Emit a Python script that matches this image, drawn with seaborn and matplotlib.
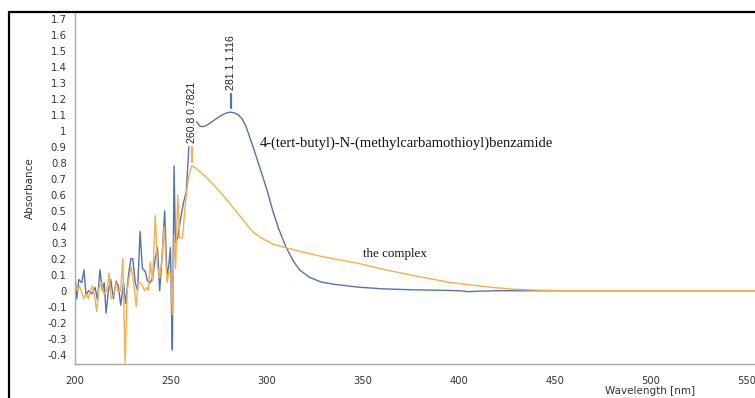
import numpy as np
import pandas as pd
import matplotlib
matplotlib.use("Agg")
import matplotlib.pyplot as plt
from matplotlib.ticker import MultipleLocator, FuncFormatter
from matplotlib.lines import Line2D
import seaborn as sns

# --- datos leidos del espectro (longitud de onda en nm, absorbancia) ---
# ligando: 4-(tert-butyl)-N-(methylcarbamothioyl)benzamide  (NaN = hueco en la traza)
ligand_wl = [200.0, 200.9, 202.0, 203.5, 204.7, 205.7, 207.0, 208.7, 210.5, 211.7,
             213.0, 214.3, 215.2, 216.2, 217.4, 218.6, 220.0, 221.4, 222.6, 223.8,
             225.3, 226.4, 227.9, 229.1, 230.1, 231.4, 232.6, 233.9, 235.1, 236.6,
             237.8, 239.2, 240.4, 241.8, 243.0, 244.1, 245.3, 246.7, 247.9, 248.8,
             249.7, 250.3, 250.7, 251.6, 252.3, 253.5, 255.0, 256.5, 258.0, 259.3,
             261.0,
             263.3, 265.0, 266.5, 268.0, 270.0, 273.0, 276.0, 279.0, 281.1, 283.0,
             285.0, 287.0, 289.0, 291.0, 293.0, 296.0, 300.0, 303.0, 306.0, 310.0,
             314.0, 317.0, 322.0, 328.0, 335.0, 348.0, 360.0, 375.0, 390.0, 400.0,
             405.0, 410.0, 420.0, 555.0]
ligand_abs = [0.10, -0.05, 0.07, 0.05, 0.13, -0.03, 0.00, -0.02, 0.02, -0.06,
              0.13, 0.00, 0.05, -0.14, 0.00, 0.07, -0.05, 0.06, 0.03, -0.09,
              0.05, -0.08, 0.10, 0.20, 0.20, 0.05, 0.00, 0.37, 0.14, 0.12,
              0.06, 0.05, 0.08, 0.20, 0.27, 0.00, 0.20, 0.50, 0.10, 0.15,
              0.27, -0.15, -0.37, 0.78, 0.30, 0.33, 0.45, 0.55, 0.62, 0.90,
              np.nan,
              1.056, 1.030, 1.025, 1.030, 1.045, 1.070, 1.095, 1.112, 1.116, 1.112,
              1.100, 1.075, 1.030, 0.960, 0.890, 0.780, 0.630, 0.500, 0.390, 0.270,
              0.180, 0.130, 0.085, 0.055, 0.040, 0.022, 0.012, 0.006, 0.003, 0.000,
              -0.006, -0.003, 0.000, 0.000]

# complejo
complex_wl = [200.0, 201.2, 202.3, 203.5, 204.7, 205.7, 207.0, 208.0, 209.1, 210.1,
              211.3, 212.5, 213.9, 215.1, 216.5, 217.8, 218.8, 220.0, 221.4, 222.6,
              223.8, 224.9, 226.1, 227.2, 228.4, 229.3, 230.5, 231.9, 232.8, 234.0,
              235.2, 236.2, 237.5, 238.3, 239.2, 240.4, 241.8, 243.0, 244.1, 245.3,
              246.5, 247.9, 248.9, 250.0, 250.7, 251.7, 252.4, 253.5, 254.5, 256.0,
              257.5, 259.0, 260.8, 263.0, 266.0, 270.0, 275.0, 279.0, 285.0, 290.0,
              293.0, 297.0, 303.0, 310.0, 320.0, 330.0, 340.0, 348.0, 360.0, 374.0,
              385.0, 395.0, 407.0, 418.0, 428.0, 440.0, 455.0, 555.0]
complex_abs = [0.05, 0.00, 0.03, -0.01, -0.05, -0.02, -0.05, 0.00, 0.03, -0.03,
               -0.13, 0.02, 0.05, -0.02, 0.00, 0.11, -0.05, -0.03, 0.05, -0.01,
               0.00, 0.20, -0.45, 0.00, 0.10, 0.15, 0.05, -0.10, 0.05, 0.05,
               0.03, 0.00, 0.02, 0.00, 0.18, 0.06, 0.47, 0.15, 0.08, 0.20,
               0.40, 0.05, 0.12, 0.10, -0.15, 0.35, 0.14, 0.60, 0.33, 0.33,
               0.55, 0.70, 0.7821, 0.765, 0.735, 0.690, 0.625, 0.570, 0.480, 0.405,
               0.365, 0.330, 0.292, 0.268, 0.238, 0.210, 0.188, 0.170, 0.135, 0.100,
               0.075, 0.052, 0.035, 0.020, 0.010, 0.004, 0.000, 0.000]

series_names = ["4-(tert-butyl)-N-(methylcarbamothioyl)benzamide", "the complex"]
series_label_pos = [(296.4, 0.92), (350.0, 0.23)]
series_label_size = [10.5, 9.4]

peak_wl = [260.8, 281.1]
peak_abs = [0.7821, 1.116]
peak_text = ["260.8 0.7821", "281.1 1.116"]

BLUE = "#5274a8"
ORANGE = "#f2b04e"
peak_colors = [ORANGE, BLUE]


def main():
    sns.set_style("white")
    plt.rcParams["font.family"] = ["DejaVu Sans"]

    W, H = 755, 398
    fig = plt.figure(figsize=(W / 100, H / 100), dpi=100)
    ax = fig.add_axes([75 / W, 1 - 364 / H, (W - 75) / W, (364 - 13) / H])

    # ligando, partido en tramos donde hay NaN
    lig = pd.DataFrame({"wl": ligand_wl, "abs": ligand_abs})
    lig["seg"] = lig["abs"].isna().cumsum()
    lig = lig.dropna()
    sns.lineplot(data=lig, x="wl", y="abs", units="seg", estimator=None,
                 color=BLUE, lw=1.0, ax=ax, sort=False)

    comp = pd.DataFrame({"wl": complex_wl, "abs": complex_abs})
    sns.lineplot(data=comp, x="wl", y="abs", estimator=None,
                 color=ORANGE, lw=1.0, ax=ax, sort=False)

    # marcas de picos
    for x, y, t, c in zip(peak_wl, peak_abs, peak_text, peak_colors):
        ax.plot([x, x], [y + 0.025, y + 0.115], color=c, lw=1.6)
        ax.text(x, y + 0.14, t, rotation=90, ha="center", va="bottom",
                fontsize=7.6, color="#222222", family=["Liberation Sans"])

    for name, (x, y), fs in zip(series_names, series_label_pos, series_label_size):
        ax.text(x, y, name, ha="left", va="center", fontsize=fs,
                color="#111111", family=["Liberation Serif"])

    ax.set_xlim(200, 554.2)
    ax.set_ylim(-0.458, 1.736)

    ax.xaxis.set_major_locator(MultipleLocator(50))
    ax.xaxis.set_minor_locator(MultipleLocator(12.5))
    ax.yaxis.set_major_locator(MultipleLocator(0.1))
    ax.yaxis.set_minor_locator(MultipleLocator(0.02))
    ax.yaxis.set_major_formatter(FuncFormatter(lambda v, p: f"{round(v, 2):g}" if abs(v) > 1e-9 else "0"))

    for s in ["top", "right"]:
        ax.spines[s].set_visible(False)
    for s in ["left", "bottom"]:
        ax.spines[s].set_color("#a8a8a8")
        ax.spines[s].set_linewidth(1.0)

    ax.tick_params(axis="both", which="major", direction="out", length=4, width=0.8,
                   color="#a8a8a8", labelsize=7.2, labelcolor="#333333", pad=2)
    ax.tick_params(axis="both", which="minor", direction="out", length=2, width=0.6,
                   color="#c0c0c0")
    ax.tick_params(axis="x", which="major", pad=5)

    ax.set_xlabel("Wavelength [nm]", fontsize=7.5, color="#333333")
    ax.set_ylabel("Absorbance", fontsize=7.5, color="#333333")
    ax.xaxis.set_label_coords((650 - 75) / 680, -(391 - 364) / 351, transform=ax.transAxes)
    ax.yaxis.set_label_coords(-(75 - 30) / 680, 0.5, transform=ax.transAxes)
    ax.xaxis.label.set_va("center")
    ax.yaxis.label.set_va("center")
    ax.grid(False)

    # marco negro de la captura
    x0 = 9 / W
    y0 = 1 - 12 / H
    fig.add_artist(Line2D([x0, x0], [0, y0], transform=fig.transFigure, color="black", lw=1.6))
    fig.add_artist(Line2D([x0, 1], [y0, y0], transform=fig.transFigure, color="black", lw=1.6))

    fig.savefig("out.png", dpi=100)
    plt.close(fig)


if __name__ == "__main__":
    main()
